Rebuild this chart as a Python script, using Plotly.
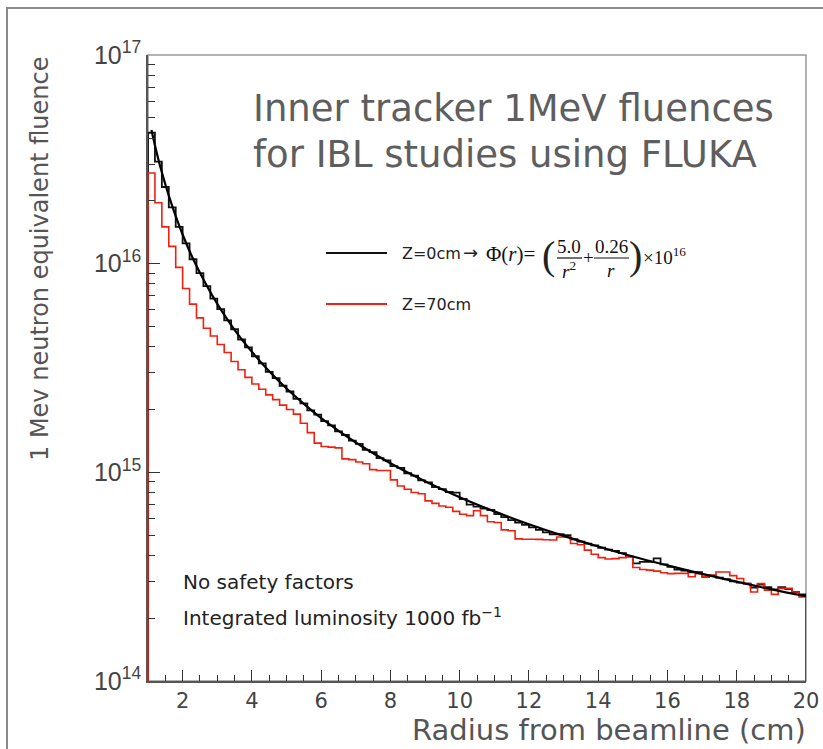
import plotly.graph_objects as go

# ---------------- data (fluence in units of 1e14 n_eq/cm^2) ----------------
BIN_START = 1.0      # cm
BIN_WIDTH = 0.2      # cm
SCALE = 1e14

Z0_FLUENCE = [
    424, 308, 233, 186, 150, 125, 105, 90, 78, 68,
    60.5, 53.5, 48.5, 43.3, 39.7, 36.0, 33.3, 30.3, 28.3, 26.0,
    24.4, 22.5, 21.4, 19.8, 18.9, 17.6, 16.8, 15.7, 15.1, 14.2,
    13.7, 12.8, 12.5, 11.7, 11.4, 10.7, 10.5, 9.9, 9.65, 9.15,
    8.95, 8.5, 8.3, 8.05, 8.0, 7.45, 7.0, 6.85, 6.7, 6.6,
    6.3, 6.1, 5.9, 5.75, 5.6, 5.45, 5.3, 5.15, 5.05, 5.05,
    5.0, 4.78, 4.65, 4.55, 4.47, 4.35, 4.26, 4.2, 4.1, 3.95,
    3.66, 3.72, 3.72, 3.87, 3.62, 3.52, 3.42, 3.38, 3.32, 3.32,
    3.16, 3.21, 3.13, 3.08, 3.0, 2.96, 2.93, 2.80, 2.90, 2.82,
    2.75, 2.82, 2.76, 2.67, 2.60,
]

Z70_FLUENCE = [
    272, 196, 150, 121, 96, 76, 64, 55, 49, 45,
    41, 37.5, 34, 31, 28.5, 26.5, 25, 23.5, 22.3, 21,
    20, 19.0, 17.2, 15.5, 13.8, 13.3, 13.2, 13.1, 11.6, 11.5,
    11.2, 11.0, 10.3, 10.2, 10.2, 9.2, 8.6, 8.3, 8.0, 7.9,
    7.3, 7.1, 6.9, 6.8, 6.5, 6.3, 6.2, 6.55, 6.2, 5.8,
    5.75, 5.3, 5.25, 4.8, 4.78, 4.78, 4.77, 4.75, 4.74, 4.9,
    4.9, 4.56, 4.5, 4.24, 4.05, 3.9, 3.84, 3.86, 3.9, 3.94,
    3.5, 3.42, 3.40, 3.36, 3.30, 3.27, 3.28, 3.28, 3.16, 3.27,
    3.16, 3.21, 3.33, 3.33, 3.2, 3.10, 2.93, 2.67, 2.93, 2.72,
    2.60, 2.78, 2.78, 2.67, 2.53,
]

# smooth parametrisation curve
FIT_R = [1.1, 1.2, 1.3, 1.4, 1.5, 1.6, 1.8, 2.0, 2.25, 2.5, 2.75, 3.0, 3.5, 4.0,
         4.5, 5.0, 5.5, 6.0, 7.0, 8.0, 9.0, 10, 11, 12, 13, 14, 15, 16, 17, 18, 19, 20]
FIT_PHI = [437, 369, 316, 274, 240, 212, 169, 138, 110, 90.4, 75.6, 64.2, 48.2, 37.8,
           30.5, 25.2, 21.3, 18.2, 13.9, 11.06, 9.06, 7.6, 6.5, 5.64, 4.96, 4.41, 3.95,
           3.58, 3.26, 2.99, 2.75, 2.55]

X_TICKS = [2, 4, 6, 8, 10, 12, 14, 16, 18, 20]
Y_TICKS = [1e14, 1e15, 1e16, 1e17]
Y_TICK_TEXT = ["10<sup>14</sup>", "10<sup>15</sup>", "10<sup>16</sup>", "10<sup>17</sup>"]

# ---------------- geometry helpers ----------------
W, H = 823, 749
L, R, T, B = 148, 17, 55, 68
PW, PH = W - L - R, H - T - B


def px(x):
    return (x - L) / PW


def py(y):
    return (H - B - y) / PH


FLOOR = Y_TICKS[0]
edges = [round(BIN_START + i * BIN_WIDTH, 4) for i in range(len(Z0_FLUENCE) + 1)]


def step_xy(vals):
    xs = [edges[0]] + edges[:-1] + [edges[-1], edges[-1]]
    ys = [FLOOR] + [v * SCALE for v in vals] + [vals[-1] * SCALE, FLOOR]
    return xs, ys


fig = go.Figure()

bx, byv = step_xy(Z0_FLUENCE)
fig.add_trace(go.Scatter(x=bx, y=byv, mode="lines", line=dict(color="#111", width=1.8, shape="hv"),
                         name="Z=0cm", showlegend=False))
rx, ryv = step_xy(Z70_FLUENCE)
fig.add_trace(go.Scatter(x=rx, y=ryv, mode="lines", line=dict(color="#f02010", width=1.6, shape="hv"),
                         name="Z=70cm", showlegend=False))
fig.add_trace(go.Scatter(x=FIT_R, y=[v * SCALE for v in FIT_PHI], mode="lines",
                         line=dict(color="#000", width=2.2, shape="spline"), showlegend=False))

TXT = "'DejaVu Sans', Verdana, sans-serif"
SERIF = "'Liberation Serif', 'DejaVu Serif', serif"

ann = []


def add_text(text, x, y, size, xanchor="left", yanchor="middle", color="#333", family=TXT, angle=0):
    ann.append(dict(text=text, x=px(x), y=py(y), xref="paper", yref="paper", showarrow=False,
                    xanchor=xanchor, yanchor=yanchor, textangle=angle,
                    font=dict(size=size, color=color, family=family)))


# title
add_text("Inner tracker 1MeV fluences", 251, 108, 37, color="#5e5e5e")
add_text("for IBL studies using FLUKA", 251, 155, 37, color="#5e5e5e")

# legend texts
add_text("Z=0cm", 400, 253, 16, color="#222")
add_text("\u2192", 470, 252, 18, xanchor="center", color="#222")
add_text("\u03a6(<i>r</i>)=", 484, 254, 21, color="#111", family=SERIF)
add_text("(", 548, 255, 40, xanchor="center", color="#222", family=SERIF)
add_text("5.0", 569, 246, 19, xanchor="center", color="#111", family=SERIF)
add_text("<i>r</i><sup>2</sup>", 569, 270, 19, xanchor="center", color="#111", family=SERIF)
add_text("+", 588, 257, 19, xanchor="center", color="#111", family=SERIF)
add_text("0.26", 611, 246, 19, xanchor="center", color="#111", family=SERIF)
add_text("<i>r</i>", 611, 270, 19, xanchor="center", color="#111", family=SERIF)
add_text(")", 635, 255, 40, xanchor="center", color="#222", family=SERIF)
add_text("\u00d710<sup>16</sup>", 641, 256, 19, color="#111", family=SERIF)
add_text("Z=70cm", 400, 304, 16, color="#222")

# notes
add_text("No safety factors", 181, 582, 20, color="#222")
add_text("Integrated luminosity 1000 fb<sup>\u22121</sup>", 181, 617, 20, color="#222")

# axis titles
add_text("Radius from beamline (cm)", 808, 730, 29, xanchor="right", color="#555")
add_text("1 Mev neutron equivalent fluence", 40, 55, 24, xanchor="center", yanchor="top",
         color="#555", angle=-90)

shapes = [
    # outer frame of the picture
    dict(type="rect", xref="paper", yref="paper", x0=px(7), x1=px(840), y0=py(770), y1=py(8),
         line=dict(color="#8a8a8a", width=2), layer="below"),
    # plot frame (top/right)
    dict(type="rect", xref="paper", yref="paper", x0=0, x1=1, y0=0, y1=1,
         line=dict(color="#999", width=1.5), layer="below"),
    # legend lines
    dict(type="line", xref="paper", yref="paper", x0=px(326), x1=px(387), y0=py(253), y1=py(253),
         line=dict(color="#111", width=2)),
    dict(type="line", xref="paper", yref="paper", x0=px(326), x1=px(387), y0=py(304), y1=py(304),
         line=dict(color="#f02010", width=2)),
    # fraction bars
    dict(type="line", xref="paper", yref="paper", x0=px(557), x1=px(582), y0=py(258), y1=py(258),
         line=dict(color="#111", width=1.2)),
    dict(type="line", xref="paper", yref="paper", x0=px(594), x1=px(629), y0=py(258), y1=py(258),
         line=dict(color="#111", width=1.2)),
]

minor_y = [k * 10 ** e for e in (14, 15, 16) for k in range(2, 10)]

fig.update_layout(
    width=W, height=H,
    margin=dict(l=L, r=R, t=T, b=B, pad=0, autoexpand=False),
    paper_bgcolor="white", plot_bgcolor="white",
    showlegend=False,
    annotations=ann,
    shapes=shapes,
    xaxis=dict(range=[1, 20], tickvals=X_TICKS, ticks="inside", ticklen=11, tickwidth=1.2,
               automargin=False,
               tickcolor="#333", showline=True, linecolor="#555", linewidth=1.5, showgrid=False,
               zeroline=False, tickfont=dict(size=21, color="#444", family=TXT),
               minor=dict(tickmode="linear", tick0=1, dtick=0.5, ticks="inside", ticklen=6,
                          tickcolor="#333", showgrid=False)),
    yaxis=dict(type="log", range=[14, 17], tickvals=Y_TICKS, ticktext=Y_TICK_TEXT,
               automargin=False,
               ticks="inside", ticklen=12, tickwidth=1.2, tickcolor="#333", showline=True,
               linecolor="#555", linewidth=1.5, showgrid=False, zeroline=False,
               tickfont=dict(size=25, color="#444", family="'Liberation Sans', Arial, sans-serif"),
               minor=dict(tickmode="array", tickvals=minor_y, ticks="inside", ticklen=7,
                          tickcolor="#333", showgrid=False)),
)

fig.write_html("out.html")
